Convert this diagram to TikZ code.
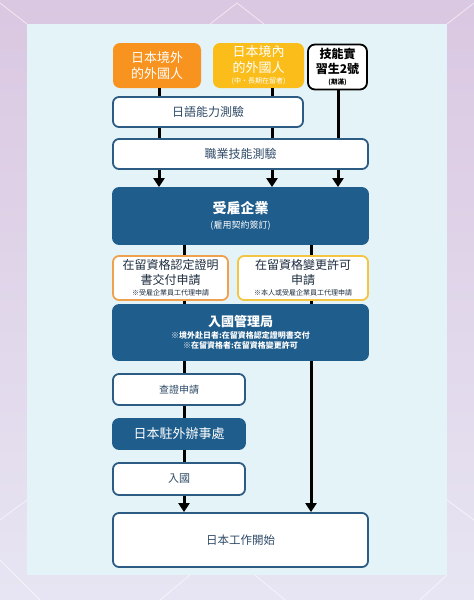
\documentclass[tikz,border=0pt]{standalone}
\usepackage{fontspec}
\setmainfont{Noto Sans CJK TC}
\usetikzlibrary{arrows.meta, positioning, calc}

\definecolor{bgtop}{HTML}{DAC7E1}
\definecolor{bgbottom}{HTML}{E7E5F3}
\definecolor{panelblue}{HTML}{E3F3F8}
\definecolor{boxblue}{HTML}{2C5C83}
\definecolor{darkblue}{HTML}{1F5D8C}
\definecolor{textblue}{HTML}{2E4A66}
\definecolor{textdark}{HTML}{1E2E40}
\definecolor{abroadorange}{HTML}{F7931E}
\definecolor{domesticyellow}{HTML}{FABD1A}
\definecolor{certorange}{HTML}{EFA14E}
\definecolor{changeyellow}{HTML}{F4C540}

\begin{document}
\begin{tikzpicture}[x=1pt, y=-1pt,
    plain/.style={rectangle, rounded corners=6pt, draw=boxblue, line width=1.8pt, fill=white, text=textblue, align=center, inner sep=0pt},
    dark/.style={plain, draw=darkblue, fill=darkblue, text=white},
    origin/.style={rectangle, rounded corners=7pt, align=center, inner sep=0pt, text=white, minimum height=45pt},
    apply/.style={plain, text=textdark, minimum height=44pt},
    link/.style={line width=3pt, draw=black},
    arrow/.style={link, -{Triangle[width=11pt,length=9pt]}},
    deco/.style={white, line width=0.8pt, opacity=0.6}
]
    \useasboundingbox (0,0) rectangle (474,600);

    % background and panel
    \shade[top color=bgtop, bottom color=bgbottom] (0,0) rectangle (474,600);
    \draw[deco] (0,3) -- (27,24);
    \draw[deco] (210,24) -- (237,3) -- (264,24);
    \draw[deco] (447,24) -- (474,3);
    \draw[deco] (0,520) -- (27,500);
    \draw[deco] (447,500) -- (474,520);
    \draw[deco] (0,560) -- (40,600);
    \draw[deco] (190,575) -- (160,600);
    \draw[deco] (255,575) -- (285,600);
    \draw[deco] (447,575) -- (420,600);
    \fill[panelblue] (27,24) rectangle (447,575);

    % column positions
    \coordinate (colA) at (159,0);
    \coordinate (colB) at (272,0);
    \coordinate (colC) at (338,0);
    \coordinate (colD) at (184,0);
    \coordinate (colE) at (311,0);

    % starting groups
    \node[origin, fill=abroadorange, minimum width=88pt, font=\fontsize{13}{16}\selectfont] (abroad) at (157,65.5) {日本境外\\的外國人};
    \node[origin, fill=domesticyellow, minimum width=91pt, font=\fontsize{13}{16}\selectfont] (domestic) at (258.5,65.5) {日本境內\\的外國人\\[-5pt]{\fontsize{7}{8}\selectfont (中・長期在留者)}};
    \node[origin, draw=black, line width=1.8pt, fill=white, text=black, minimum width=59pt, font=\bfseries\fontsize{12}{15}\selectfont] (intern) at (337.5,67) {技能實\\習生2號\\[-4pt]{\fontsize{6.5}{7}\selectfont (期滿)}};

    % tests
    \node[plain, minimum width=190pt, minimum height=30pt, font=\fontsize{12}{14}\selectfont] (jlpt) at (208,112) {日語能力測驗};
    \node[plain, minimum width=255pt, minimum height=30pt, font=\fontsize{12}{14}\selectfont] (skill) at (240.5,154) {職業技能測驗};

    % employer and applications
    \node[dark, minimum width=255pt, minimum height=56pt, font=\bfseries\fontsize{14}{17}\selectfont] (employer) at (240.5,216) {受雇企業\\[-2pt]{\mdseries\fontsize{9}{10}\selectfont (雇用契約簽訂)}};
    \node[apply, draw=certorange, minimum width=115pt, font=\fontsize{12}{14.5}\selectfont] (certapp) at (170.5,278) {在留資格認定證明\\書交付申請\\[-3pt]{\fontsize{7}{8}\selectfont ※受雇企業員工代理申請}};
    \node[apply, draw=changeyellow, minimum width=130pt, font=\fontsize{12}{14.5}\selectfont] (changeapp) at (303,278) {在留資格變更許可\\申請\\[-3pt]{\fontsize{7}{8}\selectfont ※本人或受雇企業員工代理申請}};

    % immigration
    \node[dark, minimum width=255pt, minimum height=55pt, font=\bfseries\fontsize{13}{16}\selectfont] (immig) at (240.5,332.5) {入國管理局\\[-4pt]{\fontsize{8}{9.5}\selectfont ※境外赴日者:在留資格認定證明書交付}\\[-6pt]{\fontsize{8}{9.5}\selectfont ※在留資格者:在留資格變更許可}};

    % visa route
    \node[plain, minimum width=132pt, minimum height=31pt, font=\fontsize{10}{12}\selectfont] (verify) at (179,389.5) {查證申請};
    \node[dark, minimum width=132pt, minimum height=30pt, font=\fontsize{13}{15}\selectfont] (consul) at (179,434) {日本駐外辦事處};
    \node[plain, minimum width=132pt, minimum height=32pt, font=\fontsize{11}{13}\selectfont] (entry) at (179,479) {入國};
    \node[plain, minimum width=255pt, minimum height=54pt, font=\fontsize{11.5}{14}\selectfont] (work) at (240.5,540) {日本工作開始};

    % connectors
    \draw[link] (abroad.south -| colA) -- (jlpt.north -| colA);
    \draw[link] (jlpt.south -| colA) -- (skill.north -| colA);
    \draw[arrow] (skill.south -| colA) -- (employer.north -| colA);
    \draw[link] (domestic.south -| colB) -- (jlpt.north -| colB);
    \draw[link] (jlpt.south -| colB) -- (skill.north -| colB);
    \draw[arrow] (skill.south -| colB) -- (employer.north -| colB);
    \draw[link] (intern.south -| colC) -- (skill.north -| colC);
    \draw[arrow] (skill.south -| colC) -- (employer.north -| colC);

    \draw[link] (employer.south -| colD) -- (certapp.north -| colD);
    \draw[link] (employer.south -| colE) -- (changeapp.north -| colE);
    \draw[link] (certapp.south -| colD) -- (immig.north -| colD);
    \draw[link] (changeapp.south -| colE) -- (immig.north -| colE);

    \draw[link] (immig.south -| colD) -- (verify.north -| colD);
    \draw[link] (verify.south -| colD) -- (consul.north -| colD);
    \draw[link] (consul.south -| colD) -- (entry.north -| colD);
    \draw[arrow] (entry.south -| colD) -- (work.north -| colD);
    \draw[arrow] (immig.south -| colE) -- (work.north -| colE);

\end{tikzpicture}
\end{document}
